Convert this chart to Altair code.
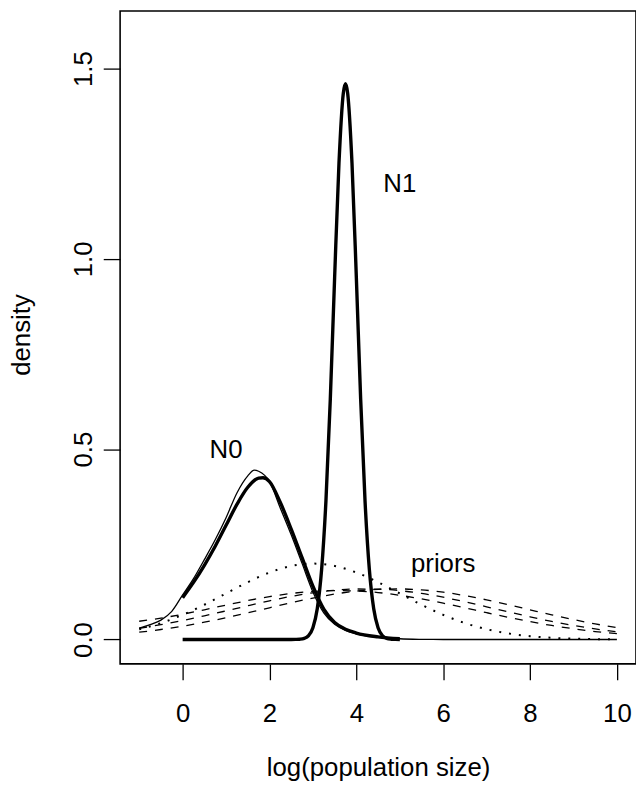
import altair as alt
import pandas as pd

# ---- data ----
grid_prior = [-1.0, -0.5, 0.0, 0.5, 1.0, 1.5, 2.0, 2.5, 3.0, 3.5, 4.0, 4.5, 5.0,
              5.5, 6.0, 6.5, 7.0, 7.5, 8.0, 8.5, 9.0, 9.5, 10.0]
prior_dotted = [0.0270, 0.0431, 0.0648, 0.0913, 0.1210, 0.1506, 0.1760, 0.1933, 0.1995,
                0.1933, 0.1760, 0.1506, 0.1210, 0.0913, 0.0648, 0.0431, 0.0270, 0.0159,
                0.0088, 0.0045, 0.0022, 0.0010, 0.0004]
prior_dash_a = [0.0480, 0.0560, 0.0665, 0.0781, 0.0905, 0.1023, 0.1127, 0.1209, 0.1263,
                0.1286, 0.1276, 0.1234, 0.1162, 0.1067, 0.0954, 0.0831, 0.0705, 0.0583,
                0.0470, 0.0369, 0.0282, 0.0210, 0.0153]
prior_dash_b = [0.0296, 0.0390, 0.0499, 0.0622, 0.0753, 0.0887, 0.1016, 0.1133, 0.1228,
                0.1294, 0.1327, 0.1323, 0.1283, 0.1211, 0.1111, 0.0991, 0.0860, 0.0726,
                0.0596, 0.0476, 0.0370, 0.0279, 0.0205]
prior_dash_c = [0.0192, 0.0263, 0.0350, 0.0454, 0.0571, 0.0700, 0.0834, 0.0966, 0.1088,
                0.1193, 0.1271, 0.1318, 0.1329, 0.1304, 0.1244, 0.1154, 0.1041, 0.0914,
                0.0780, 0.0647, 0.0523, 0.0410, 0.0313]

n0_thin_x = [-1.0, -0.75, -0.5, -0.25, 0.0, 0.25, 0.5, 0.75, 1.0, 1.25, 1.5, 1.65, 1.75,
             2.0, 2.25, 2.5, 2.75, 3.0, 3.25, 3.5, 3.75, 4.0, 4.5, 5.0, 5.5, 6.0, 10.0]
n0_thin_y = [0.030, 0.039, 0.051, 0.074, 0.117, 0.160, 0.210, 0.262, 0.320, 0.385, 0.430,
             0.445, 0.442, 0.415, 0.345, 0.275, 0.200, 0.125, 0.070, 0.040, 0.024, 0.015,
             0.006, 0.002, 0.0005, 0.0, 0.0]

n0_thick_x = [0.0, 0.25, 0.5, 0.75, 1.0, 1.25, 1.5, 1.75, 1.85, 2.0, 2.25, 2.5, 2.75,
              3.0, 3.25, 3.5, 3.75, 4.0, 4.5, 5.0]
n0_thick_y = [0.110, 0.150, 0.195, 0.245, 0.300, 0.355, 0.400, 0.424, 0.425, 0.415, 0.360,
              0.290, 0.215, 0.140, 0.080, 0.045, 0.027, 0.017, 0.007, 0.002]

n1_thick_x = [0.0, 2.5, 2.6, 2.7, 2.8, 2.9, 3.0, 3.1, 3.2, 3.3, 3.4, 3.5, 3.6, 3.7, 3.75,
              3.8, 3.9, 4.0, 4.1, 4.2, 4.3, 4.4, 4.5, 4.6, 4.7, 4.8, 4.9, 5.0]
n1_thick_y = [0.0, 0.0, 0.0002, 0.0008, 0.0030, 0.0103, 0.0308, 0.0805, 0.1833, 0.3641,
              0.6303, 0.9511, 1.2512, 1.4352, 1.4600, 1.4352, 1.2512, 0.9511, 0.6303,
              0.3641, 0.1833, 0.0805, 0.0308, 0.0103, 0.0030, 0.0008, 0.0002, 0.0]

label_text = ["N0", "N1", "priors"]
label_x = [1.0, 5.0, 6.0]
label_y = [0.5, 1.2, 0.2]

x_ticks = [0, 2, 4, 6, 8, 10]
y_ticks = [0.0, 0.5, 1.0, 1.5]

# ---- tables ----
def frame(name, xs, ys):
    return pd.DataFrame({"series": name, "x": xs, "y": ys})

dotted_df = frame("prior_dotted", grid_prior, prior_dotted)
dashed_df = pd.concat([frame("dash_a", grid_prior, prior_dash_a),
                       frame("dash_b", grid_prior, prior_dash_b),
                       frame("dash_c", grid_prior, prior_dash_c)])
thin_df = frame("n0_thin", n0_thin_x, n0_thin_y)
thick_df = pd.concat([frame("n0_thick", n0_thick_x, n0_thick_y),
                      frame("n1_thick", n1_thick_x, n1_thick_y)])
labels_df = pd.DataFrame({"t": label_text, "x": label_x, "y": label_y})

FONT = "Liberation Sans"
FS = 26

xscale = alt.Scale(domain=[-1.44, 10.44], nice=False, zero=False)
yscale = alt.Scale(domain=[-0.064, 1.651], nice=False, zero=False)

xaxis = alt.Axis(values=x_ticks, format="d", title="log(population size)",
                 tickSize=16, labelPadding=42, labelBaseline="alphabetic",
                 titleX=260, titleY=113, titleBaseline="alphabetic", titleAnchor="middle")
yaxis = alt.Axis(values=y_ticks, format=".1f", title="density",
                 tickSize=17, labelPadding=12, labelAngle=270, labelAlign="center",
                 labelBaseline="alphabetic",
                 titleAngle=270, titleX=-91, titleY=326, titleBaseline="alphabetic",
                 titleAlign="center")

X = alt.X("x:Q", scale=xscale, axis=xaxis)
Y = alt.Y("y:Q", scale=yscale, axis=yaxis)

dotted = alt.Chart(dotted_df).mark_line(
    color="black", strokeWidth=2, strokeDash=[2, 8], interpolate="monotone"
).encode(x=X, y=Y, detail="series:N")

dashed = alt.Chart(dashed_df).mark_line(
    color="black", strokeWidth=1.3, strokeDash=[8, 8], interpolate="monotone"
).encode(x=alt.X("x:Q", scale=xscale), y=alt.Y("y:Q", scale=yscale), detail="series:N")

thin = alt.Chart(thin_df).mark_line(
    color="black", strokeWidth=1.3, interpolate="monotone"
).encode(x=alt.X("x:Q", scale=xscale), y=alt.Y("y:Q", scale=yscale), detail="series:N")

thick = alt.Chart(thick_df).mark_line(
    color="black", strokeWidth=3.4, interpolate="monotone"
).encode(x=alt.X("x:Q", scale=xscale), y=alt.Y("y:Q", scale=yscale), detail="series:N")

labels = alt.Chart(labels_df).mark_text(
    font=FONT, fontSize=FS, color="black", align="center", baseline="middle", dy=1
).encode(x=alt.X("x:Q", scale=xscale), y=alt.Y("y:Q", scale=yscale), text="t:N")

chart = alt.layer(dotted, dashed, thin, thick, labels).properties(
    width=520, height=658,
    autosize=alt.AutoSizeParams(type="none"),
    padding={"left": 113, "top": 0, "right": 0, "bottom": 119},
    background="white",
).configure_view(
    stroke="black", strokeWidth=1.6
).configure_axis(
    domain=False, grid=False, ticks=True, tickColor="black", tickWidth=1.3,
    labelFont=FONT, labelFontSize=FS, labelColor="black",
    titleFont=FONT, titleFontSize=FS, titleColor="black", titleFontWeight="normal",
)

chart.save("out.html", embed_options={"renderer": "svg", "actions": False})
